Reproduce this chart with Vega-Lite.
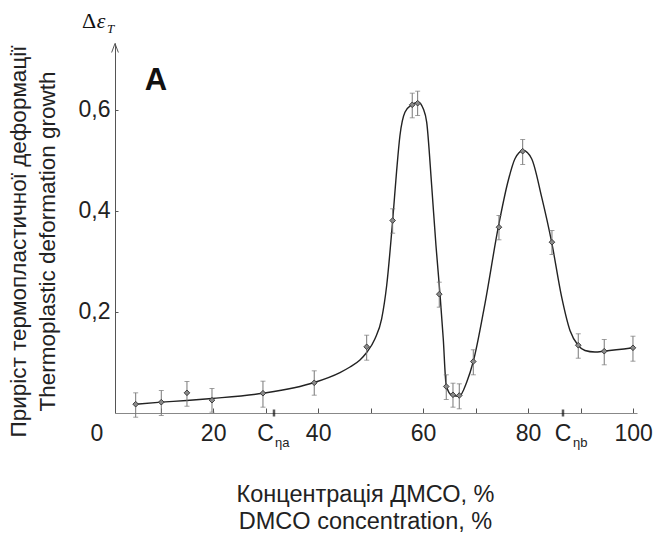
{
  "$schema": "https://vega.github.io/schema/vega-lite/v6.json",
  "width": 522,
  "height": 370,
  "autosize": {"type": "none"},
  "padding": {"left": 115, "top": 43, "right": 16, "bottom": 120},
  "config": {"view": {"stroke": null}, "font": "Liberation Sans"},
  "datasets": {
    "curve": [
      {"x": 5.24, "y": 0.0174}, {"x": 10.12, "y": 0.0214}, {"x": 14.96, "y": 0.0247}, {"x": 19.78, "y": 0.0287},
      {"x": 29.49, "y": 0.0391}, {"x": 39.26, "y": 0.0603}, {"x": 44.16, "y": 0.0800}, {"x": 46.07, "y": 0.0909},
      {"x": 47.97, "y": 0.1050},
      {"x": 49.25, "y": 0.1196}, {"x": 50.83, "y": 0.1467}, {"x": 52.10, "y": 0.1862}, {"x": 53.06, "y": 0.2521},
      {"x": 54.20, "y": 0.3806}, {"x": 54.96, "y": 0.4794}, {"x": 55.59, "y": 0.5486}, {"x": 56.54, "y": 0.5947},
      {"x": 57.82, "y": 0.6093}, {"x": 59.08, "y": 0.6145}, {"x": 60.03, "y": 0.6014}, {"x": 60.68, "y": 0.5749},
      {"x": 61.63, "y": 0.4498}, {"x": 62.45, "y": 0.3312}, {"x": 63.21, "y": 0.2357}, {"x": 63.84, "y": 0.1467},
      {"x": 64.36, "y": 0.0583}, {"x": 64.93, "y": 0.0405}, {"x": 65.63, "y": 0.0346}, {"x": 66.89, "y": 0.0332},
      {"x": 68.30, "y": 0.0609}, {"x": 69.56, "y": 0.1018}, {"x": 71.78, "y": 0.2159}, {"x": 74.32, "y": 0.3673},
      {"x": 76.22, "y": 0.4597}, {"x": 77.50, "y": 0.5026}, {"x": 79.08, "y": 0.5190}, {"x": 80.68, "y": 0.5026},
      {"x": 82.59, "y": 0.4267}, {"x": 84.49, "y": 0.3377}, {"x": 86.40, "y": 0.2289}, {"x": 87.98, "y": 0.1631},
      {"x": 89.56, "y": 0.1335}, {"x": 90.84, "y": 0.1236}, {"x": 92.74, "y": 0.1206}, {"x": 94.51, "y": 0.1222},
      {"x": 99.98, "y": 0.1289}
    ],
    "pts": [
      {"x": 5.24, "y": 0.0174, "lo": -0.0083, "hi": 0.0399},
      {"x": 10.12, "y": 0.0214, "lo": -0.0049, "hi": 0.0445},
      {"x": 15.01, "y": 0.0399, "lo": 0.0134, "hi": 0.0623},
      {"x": 19.78, "y": 0.0253, "lo": 0.0016, "hi": 0.0484},
      {"x": 29.49, "y": 0.0391, "lo": 0.0115, "hi": 0.0629},
      {"x": 39.26, "y": 0.0597, "lo": 0.0352, "hi": 0.0834},
      {"x": 49.25, "y": 0.1309, "lo": 0.1044, "hi": 0.1538},
      {"x": 54.20, "y": 0.3806, "lo": 0.3555, "hi": 0.4037},
      {"x": 57.93, "y": 0.6093, "lo": 0.5836, "hi": 0.6323},
      {"x": 58.96, "y": 0.6125, "lo": 0.5882, "hi": 0.6362},
      {"x": 63.08, "y": 0.2349, "lo": 0.2092, "hi": 0.2586},
      {"x": 64.41, "y": 0.0524, "lo": 0.0267, "hi": 0.0755},
      {"x": 65.69, "y": 0.0360, "lo": 0.0115, "hi": 0.0589},
      {"x": 66.89, "y": 0.0346, "lo": 0.0083, "hi": 0.0577},
      {"x": 69.56, "y": 0.1018, "lo": 0.0755, "hi": 0.1250},
      {"x": 74.45, "y": 0.3673, "lo": 0.3424, "hi": 0.3905},
      {"x": 78.97, "y": 0.5176, "lo": 0.4913, "hi": 0.5407},
      {"x": 84.55, "y": 0.3377, "lo": 0.3134, "hi": 0.3608},
      {"x": 89.56, "y": 0.1340, "lo": 0.1083, "hi": 0.1566},
      {"x": 94.51, "y": 0.1222, "lo": 0.0953, "hi": 0.1453},
      {"x": 99.98, "y": 0.1289, "lo": 0.1024, "hi": 0.1518}
    ],
    "ann": [
      {"k": "C", "x": 29.97, "y": 0, "t": "C"},
      {"k": "C", "x": 86.65, "y": 0, "t": "C"},
      {"k": "sub", "x": 31.78, "y": 0, "t": "ηa"},
      {"k": "sub", "x": 88.55, "y": 0, "t": "ηb"},
      {"k": "ctick", "x": 31.59, "y": 0, "t": ""},
      {"k": "ctick", "x": 86.65, "y": 0, "t": ""},
      {"k": "zero", "x": 1.3, "y": 0, "t": "0"},
      {"k": "A", "x": 9.1, "y": 0.657, "t": "A"},
      {"k": "delta", "x": 1.3, "y": 0.7315, "t": "Δ"},
      {"k": "eps", "x": 1.3, "y": 0.7315, "t": "ε"},
      {"k": "T", "x": 1.3, "y": 0.7315, "t": "T"},
      {"k": "arrow", "x": 1.3, "y": 0.7216, "t": ""}
    ]
  },
  "encoding": {
    "x": {"field": "x", "type": "quantitative", "scale": {"domain": [1.3, 100.75], "nice": false, "zero": false}}
  },
  "layer": [
    {
      "data": {"name": "curve"},
      "mark": {"type": "line", "interpolate": "monotone", "color": "#222222", "strokeWidth": 1.4},
      "encoding": {
        "x": {
          "field": "x", "type": "quantitative",
          "scale": {"domain": [1.3, 100.75], "nice": false, "zero": false},
          "axis": {
            "values": [10, 20, 30, 40, 50, 60, 70, 80, 90, 100],
            "labelExpr": "datum.value % 20 == 0 ? datum.value : ''",
            "grid": false,
            "domainColor": "#888888",
            "domainWidth": 1.2,
            "tickColor": "#555555",
            "tickSize": -5,
            "labelFontSize": 23,
            "labelColor": "#222222",
            "labelBaseline": "middle",
            "labelPadding": 25,
            "labelFlush": false,
            "labelOverlap": false,
            "title": ["Концентрація ДМСО, %", "DMCO concentration, %"],
            "titleFontSize": 23.5,
            "titleFontWeight": "normal",
            "titleColor": "#222222",
            "titleLineHeight": 27,
            "titleBaseline": "middle",
            "titleX": 250,
            "titleY": 81.5
          }
        },
        "y": {
          "field": "y", "type": "quantitative",
          "scale": {"domain": [0, 0.7315], "nice": false, "zero": false},
          "axis": {
            "values": [0.2, 0.4, 0.6],
            "labelExpr": "replace(format(datum.value, '.1f'), '.', ',')",
            "grid": false,
            "domainColor": "#555555",
            "tickColor": "#555555",
            "tickSize": -3,
            "labelFontSize": 23,
            "labelColor": "#222222",
            "labelPadding": 8,
            "labelFlush": false,
            "title": ["Приріст термопластичної деформації", "Thermoplastic deformation growth"],
            "titleFontSize": 22.5,
            "titleFontWeight": "normal",
            "titleColor": "#222222",
            "titleLineHeight": 29,
            "titleAngle": 270,
            "titleBaseline": "middle",
            "titleAlign": "center",
            "titleX": -97,
            "titleY": 198
          }
        }
      }
    },
    {
      "data": {"name": "pts"},
      "mark": {"type": "rule", "color": "#777777", "strokeWidth": 1},
      "encoding": {
        "y": {"field": "lo", "type": "quantitative", "scale": {"domain": [0, 0.7315], "nice": false, "zero": false}},
        "y2": {"field": "hi"}
      }
    },
    {
      "data": {"name": "pts"},
      "mark": {"type": "tick", "orient": "horizontal", "color": "#777777", "size": 5, "thickness": 1},
      "encoding": {
        "y": {"field": "lo", "type": "quantitative", "scale": {"domain": [0, 0.7315], "nice": false, "zero": false}}
      }
    },
    {
      "data": {"name": "pts"},
      "mark": {"type": "tick", "orient": "horizontal", "color": "#777777", "size": 5, "thickness": 1},
      "encoding": {
        "y": {"field": "hi", "type": "quantitative", "scale": {"domain": [0, 0.7315], "nice": false, "zero": false}}
      }
    },
    {
      "data": {"name": "pts"},
      "mark": {"type": "point", "shape": "diamond", "filled": true, "size": 32, "fill": "#8a8a8a", "stroke": "#333333", "strokeWidth": 0.9, "opacity": 1},
      "encoding": {
        "y": {"field": "y", "type": "quantitative", "scale": {"domain": [0, 0.7315], "nice": false, "zero": false}}
      }
    },
    {
      "data": {"name": "ann"},
      "transform": [{"filter": "datum.k == 'ctick'"}],
      "mark": {"type": "tick", "orient": "vertical", "color": "#111111", "size": 7, "thickness": 2.5},
      "encoding": {
        "y": {"field": "y", "type": "quantitative", "scale": {"domain": [0, 0.7315], "nice": false, "zero": false}}
      }
    },
    {
      "data": {"name": "ann"},
      "transform": [{"filter": "datum.k == 'C'"}],
      "mark": {"type": "text", "fontSize": 23, "color": "#222222", "baseline": "middle", "align": "center", "dy": 20.5},
      "encoding": {
        "y": {"field": "y", "type": "quantitative", "scale": {"domain": [0, 0.7315], "nice": false, "zero": false}},
        "text": {"field": "t"}
      }
    },
    {
      "data": {"name": "ann"},
      "transform": [{"filter": "datum.k == 'zero'"}],
      "mark": {"type": "text", "fontSize": 23, "color": "#222222", "baseline": "middle", "align": "center", "dx": -18, "dy": 20.5},
      "encoding": {
        "y": {"field": "y", "type": "quantitative", "scale": {"domain": [0, 0.7315], "nice": false, "zero": false}},
        "text": {"field": "t"}
      }
    },
    {
      "data": {"name": "ann"},
      "transform": [{"filter": "datum.k == 'sub'"}],
      "mark": {"type": "text", "fontSize": 13, "color": "#222222", "baseline": "middle", "align": "left", "dy": 30},
      "encoding": {
        "y": {"field": "y", "type": "quantitative", "scale": {"domain": [0, 0.7315], "nice": false, "zero": false}},
        "text": {"field": "t"}
      }
    },
    {
      "data": {"name": "ann"},
      "transform": [{"filter": "datum.k == 'A'"}],
      "mark": {"type": "text", "fontSize": 31, "fontWeight": "bold", "color": "#111111", "baseline": "middle", "align": "center"},
      "encoding": {
        "y": {"field": "y", "type": "quantitative", "scale": {"domain": [0, 0.7315], "nice": false, "zero": false}},
        "text": {"field": "t"}
      }
    },
    {
      "data": {"name": "ann"},
      "transform": [{"filter": "datum.k == 'delta'"}],
      "mark": {"type": "text", "font": "Liberation Serif", "fontSize": 22, "color": "#111111", "baseline": "alphabetic", "align": "center", "dx": -26, "dy": -14.7},
      "encoding": {
        "y": {"field": "y", "type": "quantitative", "scale": {"domain": [0, 0.7315], "nice": false, "zero": false}},
        "text": {"field": "t"}
      }
    },
    {
      "data": {"name": "ann"},
      "transform": [{"filter": "datum.k == 'eps'"}],
      "mark": {"type": "text", "font": "Liberation Serif", "fontStyle": "italic", "fontSize": 22, "color": "#111111", "baseline": "alphabetic", "align": "center", "dx": -14, "dy": -14.7},
      "encoding": {
        "y": {"field": "y", "type": "quantitative", "scale": {"domain": [0, 0.7315], "nice": false, "zero": false}},
        "text": {"field": "t"}
      }
    },
    {
      "data": {"name": "ann"},
      "transform": [{"filter": "datum.k == 'T'"}],
      "mark": {"type": "text", "font": "Liberation Serif", "fontStyle": "italic", "fontSize": 13, "color": "#111111", "baseline": "alphabetic", "align": "center", "dx": -4.5, "dy": -9.7},
      "encoding": {
        "y": {"field": "y", "type": "quantitative", "scale": {"domain": [0, 0.7315], "nice": false, "zero": false}},
        "text": {"field": "t"}
      }
    },
    {
      "data": {"name": "ann"},
      "transform": [{"filter": "datum.k == 'arrow'"}],
      "mark": {"type": "point", "shape": "M-0.75,1L0,-1L0.75,1", "filled": false, "size": 81, "stroke": "#555555", "strokeWidth": 1, "opacity": 1},
      "encoding": {
        "y": {"field": "y", "type": "quantitative", "scale": {"domain": [0, 0.7315], "nice": false, "zero": false}}
      }
    },
    {
      "data": {"values": [{}]},
      "mark": {"type": "rule", "color": "#999999", "strokeWidth": 1.5},
      "encoding": {
        "x": {"datum": 100.75, "type": "quantitative", "scale": {"domain": [1.3, 100.75], "nice": false, "zero": false}},
        "y": {"datum": 0, "type": "quantitative", "scale": {"domain": [0, 0.7315], "nice": false, "zero": false}},
        "y2": {"datum": 0.7315}
      }
    }
  ]
}
